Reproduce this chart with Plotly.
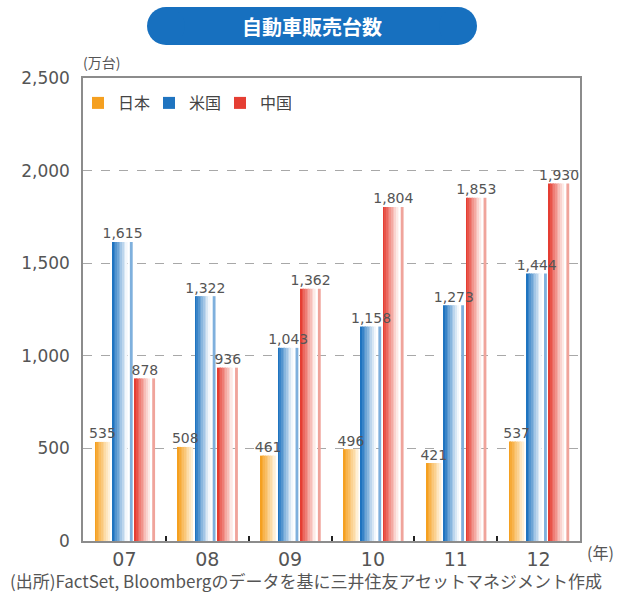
import plotly.graph_objects as go

years = ["07", "08", "09", "10", "11", "12"]
japan = [535, 508, 461, 496, 421, 537]
usa = [1615, 1322, 1043, 1158, 1273, 1444]
china = [878, 936, 1362, 1804, 1853, 1930]
series_names = ["日本", "米国", "中国"]

W, H = 619, 595
L, R, T, B = 83, 39, 78, 54
PW, PH = W - L - R, H - T - B

FONT = "Noto Sans CJK JP, Noto Sans, sans-serif"
NUMFONT = "DejaVu Sans, sans-serif"
GRAY = "#555555"


def hex2rgb(h):
    h = h.lstrip("#")
    return tuple(int(h[i:i + 2], 16) for i in (0, 2, 4))


def lerp(c1, c2, t):
    a, b = hex2rgb(c1), hex2rgb(c2)
    return "rgb(%d,%d,%d)" % tuple(round(a[i] + (b[i] - a[i]) * t) for i in range(3))


# style per series: offset, width, gradient start, gradient end, stripe colour
styles = [
    dict(off=-0.355, w=0.18, c1="#f5a020", c2="#fff0d6", stripe=None),
    dict(off=-0.145, w=0.245, c1="#1f74c0", c2="#f2f7fc", stripe="#7fb0dd"),
    dict(off=0.125, w=0.245, c1="#e53e33", c2="#fdeae6", stripe="#f0a49b"),
]
values = [japan, usa, china]
xs = list(range(len(years)))

fig = go.Figure()
NS = 9
for s, (vals, st, name) in enumerate(zip(values, styles, series_names)):
    if st["stripe"]:
        grad_w = st["w"] * 0.74
    else:
        grad_w = st["w"]
    ws = grad_w / NS
    for i in range(NS):
        fig.add_trace(go.Bar(
            x=xs, y=vals, offset=st["off"] + i * ws, width=ws * 1.08,
            marker=dict(color=lerp(st["c1"], st["c2"], i / (NS - 1)), line=dict(width=0)),
            name=name, legendgroup=name, showlegend=(i == 0), hoverinfo="skip",
        ))
    if st["stripe"]:
        sw = st["w"] * 0.14
        fig.add_trace(go.Bar(
            x=xs, y=vals, offset=st["off"] + st["w"] - sw, width=sw,
            marker=dict(color=st["stripe"], line=dict(width=0)),
            name=name, legendgroup=name, showlegend=False, hoverinfo="skip",
        ))
    fig.add_trace(go.Scatter(
        x=[x + st["off"] + st["w"] / 2 for x in xs], y=vals,
        mode="text", text=[f"{v:,}" for v in vals], textposition="top center",
        textfont=dict(size=14, color=GRAY, family=NUMFONT),
        showlegend=False, hoverinfo="skip", cliponaxis=False,
    ))


def px(x):
    return (x - L) / PW


def py(y):
    return (H - B - y) / PH


banner = "#1770bf"
shapes = [
    dict(type="rect", xref="paper", yref="paper", x0=px(166), x1=px(458), y0=py(45), y1=py(7),
         fillcolor=banner, line=dict(width=0), layer="below"),
    dict(type="circle", xref="paper", yref="paper", x0=px(147), x1=px(185), y0=py(45), y1=py(7),
         fillcolor=banner, line=dict(width=0), layer="below"),
    dict(type="circle", xref="paper", yref="paper", x0=px(439), x1=px(477), y0=py(45), y1=py(7),
         fillcolor=banner, line=dict(width=0), layer="below"),
]

annotations = [
    dict(text="<b>自動車販売台数</b>", xref="paper", yref="paper", x=px(312), y=py(26),
         xanchor="center", yanchor="middle", showarrow=False,
         font=dict(size=20, color="white", family=FONT)),
    dict(text="(万台)", xref="paper", yref="paper", x=px(81), y=py(62),
         xanchor="left", yanchor="middle", showarrow=False,
         font=dict(size=14, color=GRAY, family=FONT)),
    dict(text="(年)", xref="paper", yref="paper", x=px(585), y=py(552),
         xanchor="left", yanchor="middle", showarrow=False,
         font=dict(size=16, color=GRAY, family=FONT)),
    dict(text="(出所)FactSet, Bloombergのデータを基に三井住友アセットマネジメント作成",
         xref="paper", yref="paper", x=px(306), y=py(580),
         xanchor="center", yanchor="middle", showarrow=False,
         font=dict(size=17, color=GRAY, family=FONT)),
]

fig.update_layout(
    width=W, height=H, autosize=False,
    margin=dict(l=L, r=R, t=T, b=B),
    barmode="overlay",
    plot_bgcolor="white", paper_bgcolor="white",
    font=dict(family=FONT, color=GRAY),
    shapes=shapes, annotations=annotations,
    legend=dict(orientation="h", x=px(78), y=py(86), xanchor="left", yanchor="top",
                font=dict(size=16, color="#444444", family=FONT),
                bgcolor="rgba(0,0,0,0)", itemwidth=30, entrywidth=26,
                traceorder="normal"),
    xaxis=dict(range=[-0.5, 5.5], tickvals=xs, ticktext=years, showgrid=False,
               showline=True, mirror=True, linecolor="#8c8c8c", linewidth=1.5,
               ticks="", tickfont=dict(size=19, color=GRAY, family=NUMFONT),
               minor=dict(tickvals=[0.5, 1.5, 2.5, 3.5, 4.5], ticks="inside",
                          ticklen=5, tickwidth=2, tickcolor="#222222", showgrid=False),
               zeroline=False),
    yaxis=dict(range=[0, 2500], dtick=500, tickformat=",", showgrid=True,
               gridcolor="#a8a8a8", griddash="dash", gridwidth=1,
               showline=True, mirror=True, linecolor="#8c8c8c", linewidth=1.5,
               ticks="", ticklabelstandoff=8,
               tickfont=dict(size=17, color=GRAY, family=NUMFONT), zeroline=False),
)

fig.write_html("out.html")
